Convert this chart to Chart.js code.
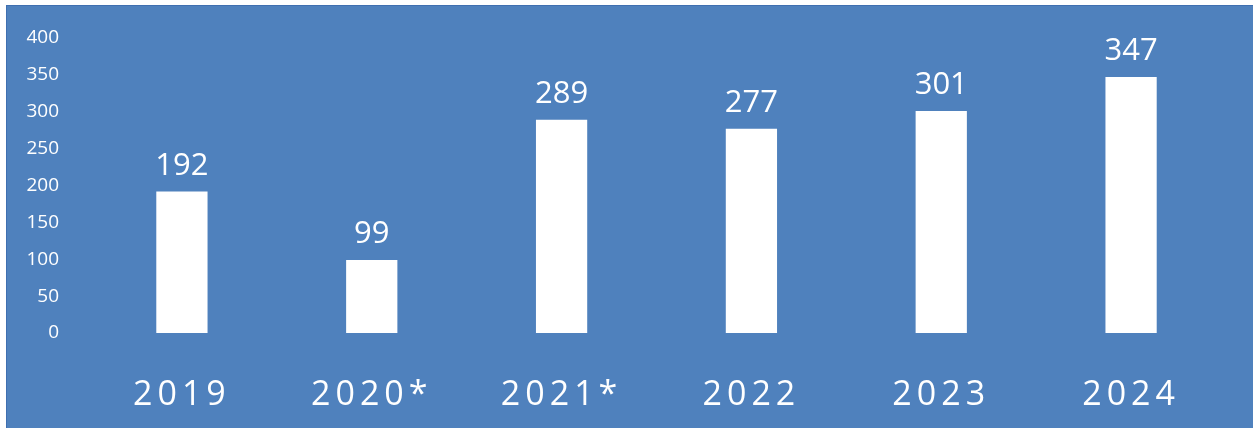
<!DOCTYPE html>
<html>
<head>
<meta charset="utf-8">
<script src="https://cdn.jsdelivr.net/npm/chart.js@4"></script>
<style>
  html, body { margin: 0; padding: 0; background: #ffffff; }
  #box {
    position: absolute; left: 6px; top: 5px; width: 1247px; height: 423px;
    background: #4F81BD; border-top: 1px solid #3F6FB0; border-left: 1px solid #3F6FB0;
    box-sizing: border-box;
  }
  #box canvas { position: absolute; left: 0; top: 0; }
</style>
</head>
<body>
<div id="box"><canvas id="myChart" width="1246" height="422"></canvas></div>
<script>
const years = ['2019', '2020*', '2021*', '2022', '2023', '2024'];
const visits = [192, 99, 289, 277, 301, 347];
const yTicks = [0, 50, 100, 150, 200, 250, 300, 350, 400];

// numbers above the bars, then wider spacing for the year labels
const barLabels = {
  id: 'barLabels',
  afterDatasetsDraw(chart) {
    const ctx = chart.ctx;
    const meta = chart.getDatasetMeta(0);
    ctx.save();
    ctx.letterSpacing = '0px';
    ctx.fillStyle = '#ffffff';
    ctx.font = '31px "Open Sans"';
    ctx.textAlign = 'center';
    ctx.textBaseline = 'bottom';
    meta.data.forEach((bar, i) => {
      ctx.fillText(String(visits[i]), bar.x, bar.y - 10);
    });
    ctx.restore();
    ctx.letterSpacing = '5px';
  },
  afterDraw(chart) {
    chart.ctx.letterSpacing = '0px';
  }
};

const ctx = document.getElementById('myChart').getContext('2d');
new Chart(ctx, {
  type: 'bar',
  data: {
    labels: years,
    datasets: [{
      data: visits,
      backgroundColor: '#ffffff',
      categoryPercentage: 1,
      barPercentage: 0.27
    }]
  },
  options: {
    responsive: false,
    animation: false,
    layout: { padding: { top: 32, right: 27, bottom: 0, left: 0 } },
    plugins: { legend: { display: false }, tooltip: { enabled: false } },
    scales: {
      x: {
        grid: { display: false },
        border: { display: false },
        ticks: {
          color: '#ffffff',
          font: { family: 'Open Sans', size: 34 },
          padding: 34,
          z: 1
        },
        afterFit: (s) => { s.height = 95; }
      },
      y: {
        min: 0,
        max: 400,
        grid: { display: false },
        border: { display: false },
        afterBuildTicks: (s) => { s.ticks = yTicks.map(v => ({ value: v })); },
        ticks: {
          color: '#ffffff',
          font: { family: 'Open Sans', size: 19 },
          padding: 20
        },
        afterFit: (s) => { s.width = 80; }
      }
    }
  },
  plugins: [barLabels]
});
</script>
</body>
</html>
